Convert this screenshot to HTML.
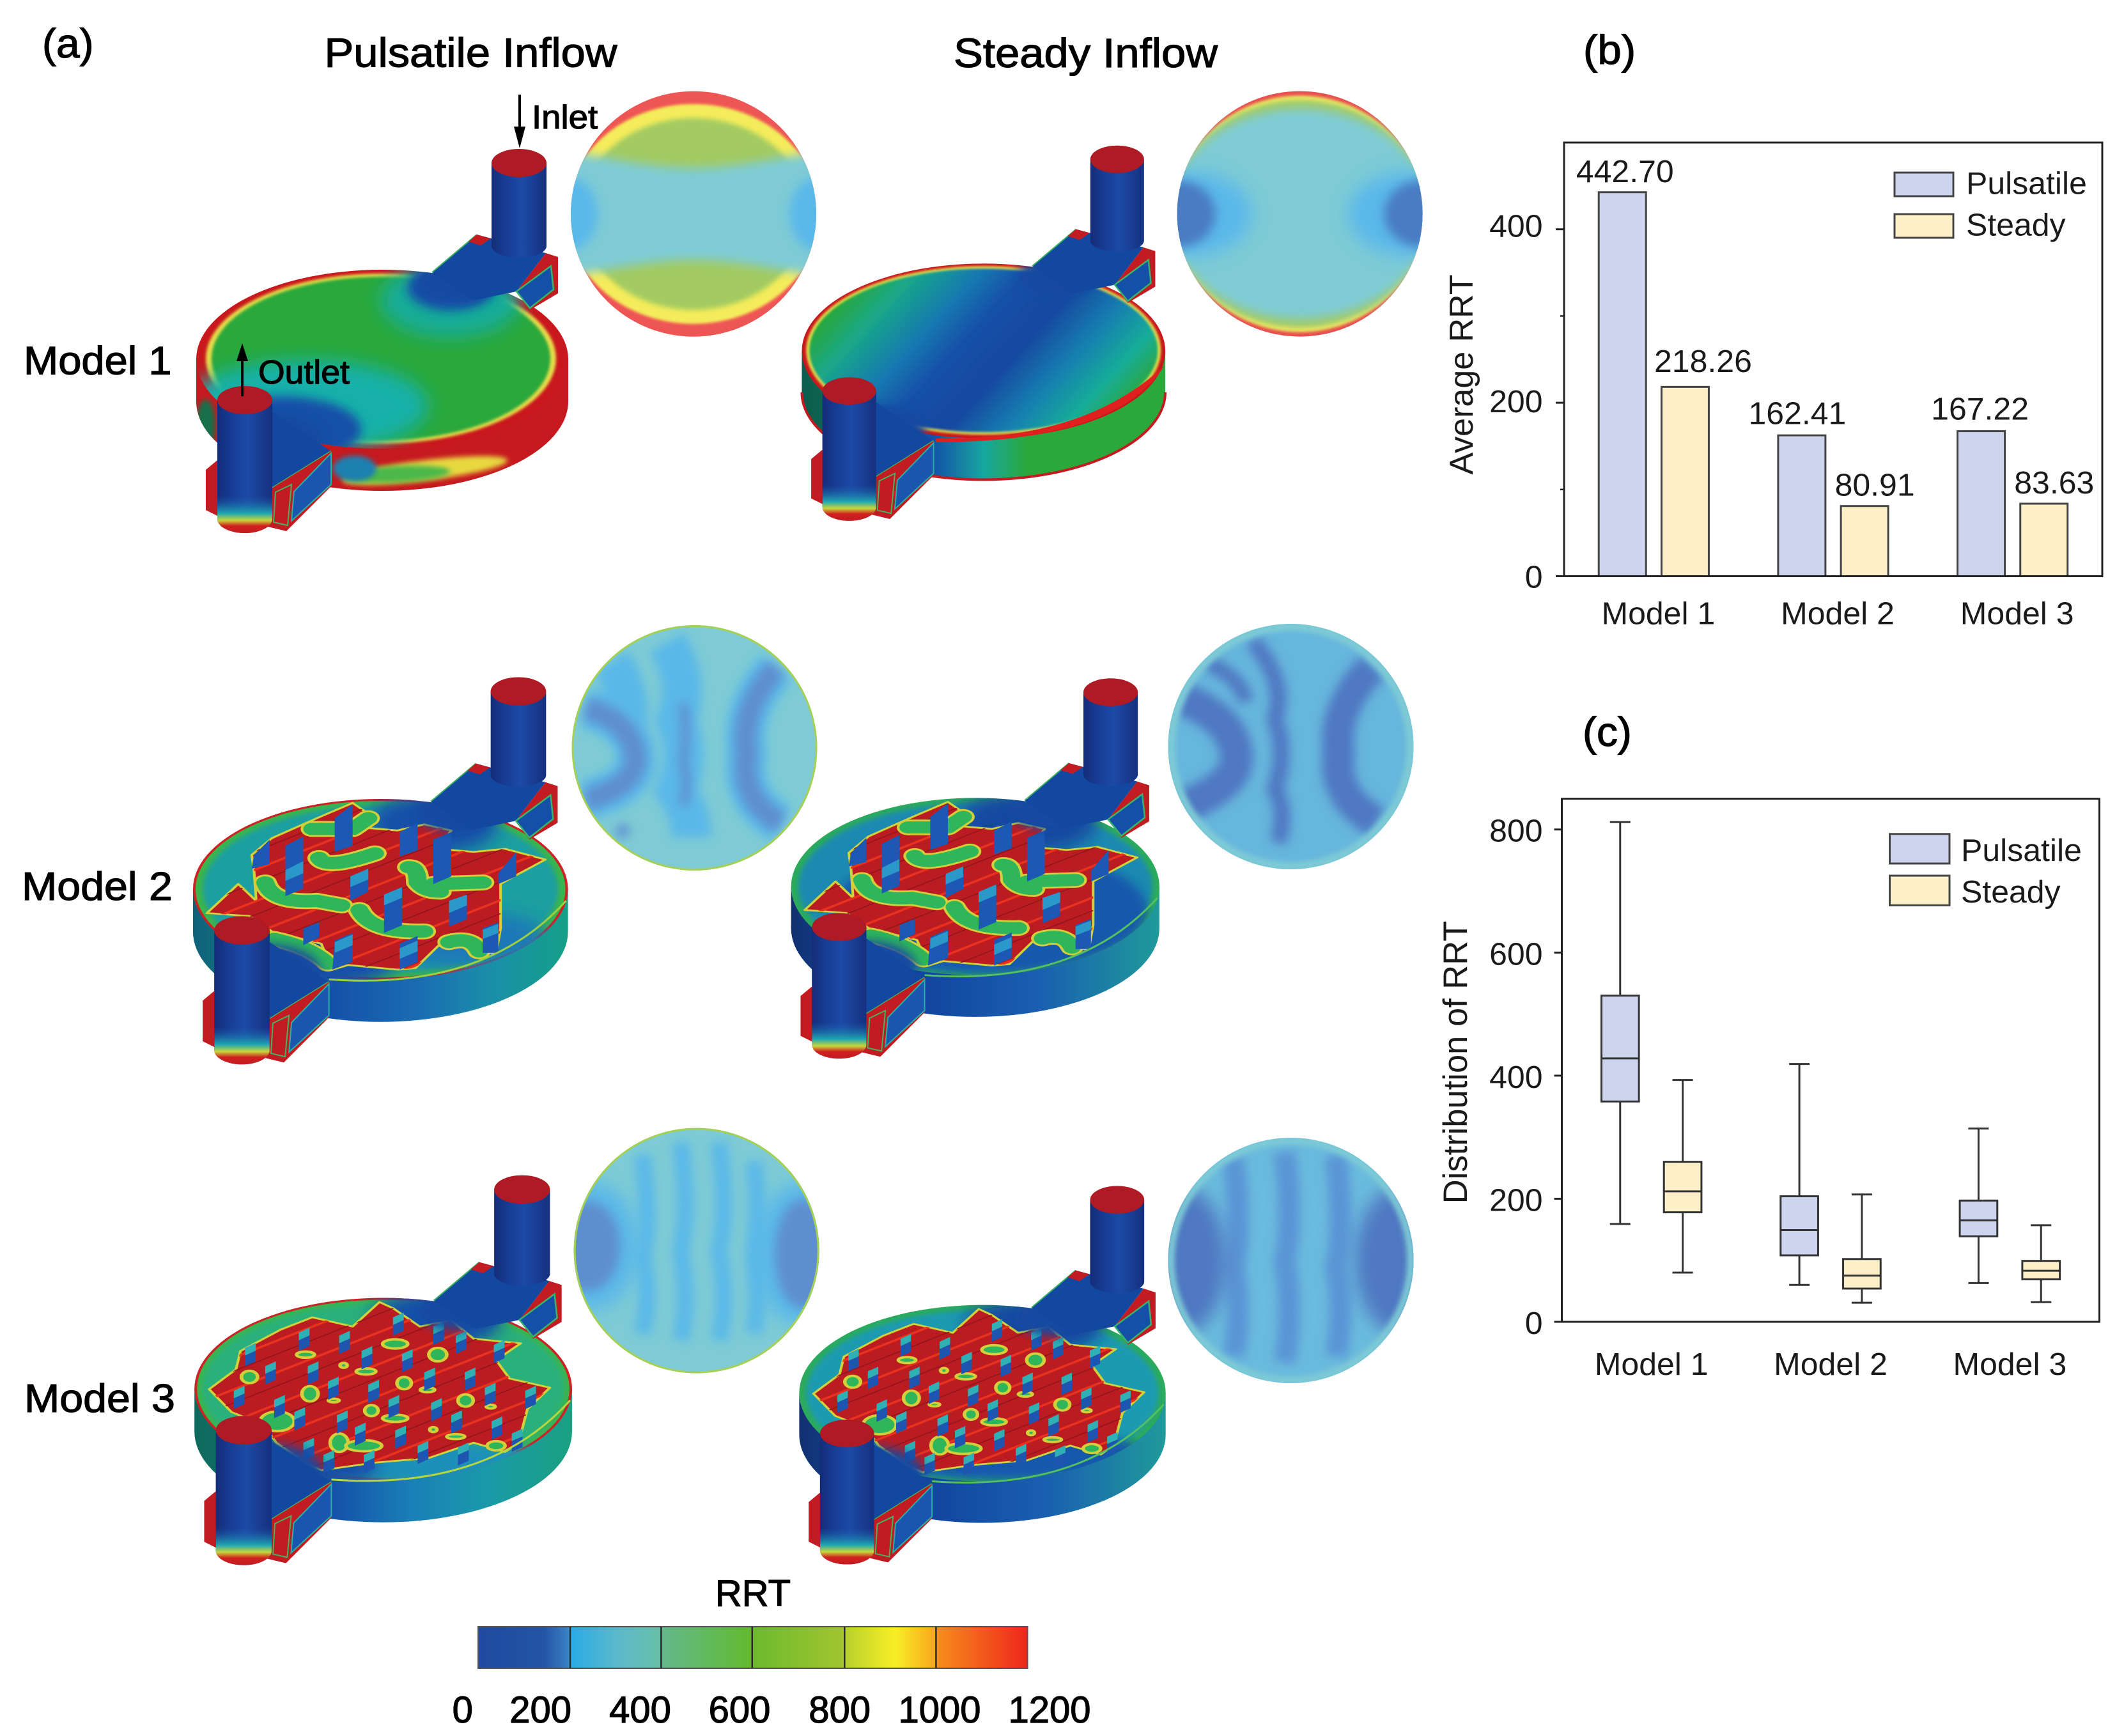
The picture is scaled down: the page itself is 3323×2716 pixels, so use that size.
<!DOCTYPE html>
<html>
<head>
<meta charset="utf-8">
<title>RRT comparison figure</title>
<style>
html,body{margin:0;padding:0;background:#fff;}
svg{display:block;}
text{font-family:"Liberation Sans",sans-serif;fill:#1a1a1a;}
.heavy{stroke:#000;stroke-width:1.2;fill:#000;}
</style>
</head>
<body>
<svg id="figure" xmlns="http://www.w3.org/2000/svg" width="3323" height="2716" viewBox="0 0 3323 2716">
<defs>
  <filter id="b2" x="-30%" y="-30%" width="160%" height="160%"><feGaussianBlur stdDeviation="2"/></filter>
  <filter id="b4" x="-30%" y="-30%" width="160%" height="160%"><feGaussianBlur stdDeviation="4"/></filter>
  <filter id="b8" x="-40%" y="-40%" width="180%" height="180%"><feGaussianBlur stdDeviation="8"/></filter>
  <filter id="b14" x="-50%" y="-50%" width="200%" height="200%"><feGaussianBlur stdDeviation="14"/></filter>
  <clipPath id="discClip"><ellipse cx="598" cy="562" rx="291" ry="140"/></clipPath>
  <clipPath id="sideClip"><path d="M307,562 L307,628 A291,140 0 0 0 889,628 L889,562 Z"/></clipPath>
  <clipPath id="insetClip"><circle cx="0" cy="0" r="192"/></clipPath>
  <clipPath id="outletClip"><path d="M340,626 L340,812 A43,22 0 0 0 426,812 L426,626 Z"/></clipPath>
  <linearGradient id="cyl" x1="0" x2="1" y1="0" y2="0">
    <stop offset="0" stop-color="#152c78"/><stop offset=".25" stop-color="#173c94"/><stop offset=".55" stop-color="#1c4aa6"/><stop offset="1" stop-color="#16307f"/>
  </linearGradient>
  <linearGradient id="outletFoot" gradientUnits="userSpaceOnUse" x1="0" x2="0" y1="775" y2="838">
    <stop offset="0" stop-color="#1a55b0" stop-opacity="0"/><stop offset=".45" stop-color="#1fa8b0"/><stop offset=".62" stop-color="#c8d73a"/><stop offset=".76" stop-color="#d0201f"/><stop offset="1" stop-color="#c01a20"/>
  </linearGradient>
  <linearGradient id="floor1s" gradientUnits="userSpaceOnUse" x1="430" y1="410" x2="770" y2="720">
    <stop offset="0" stop-color="#2aa63a"/><stop offset=".13" stop-color="#1aa888"/><stop offset=".3" stop-color="#1578b0"/><stop offset=".42" stop-color="#1450a8"/><stop offset=".58" stop-color="#1348a0"/><stop offset=".74" stop-color="#1680b0"/><stop offset=".88" stop-color="#18ad98"/><stop offset="1" stop-color="#2aa63a"/>
  </linearGradient>
  <linearGradient id="side1s" gradientUnits="userSpaceOnUse" x1="307" x2="889" y1="0" y2="0">
    <stop offset="0" stop-color="#0b5c50"/><stop offset=".12" stop-color="#0e6b4a"/><stop offset=".36" stop-color="#1450a8"/><stop offset=".5" stop-color="#16a7a0"/><stop offset=".62" stop-color="#2ba83a"/><stop offset="1" stop-color="#2ba83a"/>
  </linearGradient>
  <linearGradient id="side2p" gradientUnits="userSpaceOnUse" x1="307" x2="889" y1="0" y2="0">
    <stop offset="0" stop-color="#0f5f7a"/><stop offset=".12" stop-color="#147a80"/><stop offset=".36" stop-color="#1450a8"/><stop offset=".6" stop-color="#1a6cb2"/><stop offset=".8" stop-color="#1a8fa8"/><stop offset="1" stop-color="#14a088"/>
  </linearGradient>
  <linearGradient id="side2s" gradientUnits="userSpaceOnUse" x1="307" x2="889" y1="0" y2="0">
    <stop offset="0" stop-color="#12306f"/><stop offset=".12" stop-color="#12408f"/><stop offset=".36" stop-color="#12459f"/><stop offset=".68" stop-color="#1a60b0"/><stop offset="1" stop-color="#1f9a9a"/>
  </linearGradient>
  <linearGradient id="side3p" gradientUnits="userSpaceOnUse" x1="307" x2="889" y1="0" y2="0">
    <stop offset="0" stop-color="#0d6a5a"/><stop offset=".12" stop-color="#0f6f70"/><stop offset=".36" stop-color="#1450a8"/><stop offset=".58" stop-color="#1a80b8"/><stop offset=".78" stop-color="#1a9aa8"/><stop offset="1" stop-color="#1aa080"/>
  </linearGradient>
  <linearGradient id="colormap" gradientUnits="userSpaceOnUse" x1="748" x2="1607.6" y1="0" y2="0">
    <stop offset="0" stop-color="#1f4a9f"/><stop offset=".12" stop-color="#2354a6"/><stop offset=".1633" stop-color="#3a80c4"/><stop offset=".1673" stop-color="#29abe6"/><stop offset=".2531" stop-color="#5bb9cc"/><stop offset=".3306" stop-color="#68c0a8"/><stop offset=".3347" stop-color="#63b98c"/><stop offset=".4939" stop-color="#62ba30"/><stop offset=".4988" stop-color="#6cba2f"/><stop offset=".6612" stop-color="#a0c52e"/><stop offset=".6694" stop-color="#b8d22c"/><stop offset=".7592" stop-color="#f8ee26"/><stop offset=".8327" stop-color="#f9a61c"/><stop offset=".8367" stop-color="#f78c1c"/><stop offset="1" stop-color="#ee261c"/>
  </linearGradient>
  <pattern id="redLines" width="90" height="90" patternUnits="userSpaceOnUse" patternTransform="rotate(-30)">
    <rect x="0" y="36" width="90" height="7" fill="#e8321e"/>
    <rect x="0" y="76" width="90" height="3" fill="#8e141a"/>
  </pattern>

  <!-- shared housing pieces -->
  <polygon id="leftTab" points="340,720 322,735 322,798 344,809" fill="#c21b22"/>
  <g id="channels">
    <g clip-path="url(#discClip)">
      <ellipse cx="715" cy="442" rx="62" ry="30" fill="#1248a0" filter="url(#b8)"/>
      <ellipse cx="425" cy="690" rx="80" ry="42" fill="#1248a0" filter="url(#b8)"/>
    </g>
    <polygon points="676,426 746,367 854,396 808,456 740,470" fill="#1248a0"/>
    <polyline points="676,426 746,367" fill="none" stroke="#38b060" stroke-width="2"/>
    <polygon points="733,378 746,367 768,373 752,384" fill="#c21b22"/>
    <polygon points="854,396 873,402 873,459 829,485 808,456" fill="#c21b22"/>
    <polygon points="808,456 862,416 866,453 829,482" fill="#1450a8" stroke="#38b46a" stroke-width="2.5"/>
    <polygon points="340,670 420,640 518,706 425,764 340,720" fill="#1248a0"/>
    <polyline points="518,706 425,764" fill="none" stroke="#4ab85a" stroke-width="2.5"/>
    <polygon points="518,706 518,761 448,831 419,824 425,764" fill="#c21b22"/>
    <polygon points="460,769 518,709 518,758 456,815" fill="#1a55b0" stroke="#2ab0a0" stroke-width="2"/>
    <polygon points="431,770 456,758 450,822 428,817" fill="#c21b22" stroke="#46b45a" stroke-width="2"/>
    <path d="M769,255 L769,385 A43,18 0 0 0 855,385 L855,255 Z" fill="url(#cyl)"/>
    <ellipse cx="812" cy="255" rx="43" ry="22" fill="#ae1b24"/>
    <path d="M340,626 L340,812 A43,22 0 0 0 426,812 L426,626 Z" fill="url(#cyl)"/>
    <rect x="336" y="775" width="94" height="65" fill="url(#outletFoot)" clip-path="url(#outletClip)"/>
    <ellipse cx="383" cy="626" rx="43" ry="22" fill="#ae1b24"/>
  </g>
  <path id="discSide" d="M307,562 L307,628 A291,140 0 0 0 889,628 L889,562 Z"/>

  <!-- lattice of Model 2, drawn in a stretched local frame -->
  <g id="lattice2" transform="translate(255.5,124.4) scale(.6959,.4747)">
    <path d="M105,1000 L175,905 L215,960 L210,860 L205,810 L250,755 L350,690 L430,640 L470,680 L450,720 L530,730 L590,710 L650,730 L620,790 L700,800 L770,790 L860,825 L790,880 L760,905 L760,1050 L750,1130 L700,1130 L640,1080 L570,1180 L530,1185 L420,1170 L385,1185 L360,1100 L250,1060 L200,1010 Z" fill="#bb1c22" stroke="#cfd23a" stroke-width="6" stroke-linejoin="round"/>
    <path d="M105,1000 L175,905 L215,960 L210,860 L205,810 L250,755 L350,690 L430,640 L470,680 L450,720 L530,730 L590,710 L650,730 L620,790 L700,800 L770,790 L860,825 L790,880 L760,905 L760,1050 L750,1130 L700,1130 L640,1080 L570,1180 L530,1185 L420,1170 L385,1185 L360,1100 L250,1060 L200,1010 Z" fill="url(#redLines)"/>
    <g fill="none" stroke="#d2cf3a" stroke-width="52" stroke-linecap="round" stroke-linejoin="round">
      <path d="M355,820 Q370,860 480,805"/>
      <path d="M555,850 Q575,850 575,900 Q590,930 625,930"/>
      <path d="M235,900 Q250,970 350,960 L405,975"/>
      <path d="M445,990 Q470,1065 590,1060"/>
      <path d="M610,905 L720,900"/>
      <path d="M340,725 L430,725 L465,690"/>
      <path d="M255,1085 Q335,1110 375,1165"/>
      <path d="M645,1095 Q695,1075 712,1125"/>
    </g>
    <g fill="none" stroke="#2fb55a" stroke-width="40" stroke-linecap="round" stroke-linejoin="round">
      <path d="M355,820 Q370,860 480,805"/>
      <path d="M555,850 Q575,850 575,900 Q590,930 625,930"/>
      <path d="M235,900 Q250,970 350,960 L405,975"/>
      <path d="M445,990 Q470,1065 590,1060"/>
      <path d="M610,905 L720,900"/>
      <path d="M340,725 L430,725 L465,690"/>
      <path d="M255,1085 Q335,1110 375,1165"/>
      <path d="M645,1095 Q695,1075 712,1125"/>
    </g>
    <path d="M430,645 L430,780 L390,800 L390,690 Z M575,705 L575,795 L535,815 L535,735 Z M650,735 L650,880 L610,905 L610,760 Z M320,750 L320,920 L280,945 L280,780 Z M245,760 L245,840 L205,855 L210,810 Z M540,915 L540,1040 L500,1065 L500,940 Z M465,855 L465,930 L425,960 L425,880 Z M355,1030 L355,1080 L320,1105 L320,1050 Z M430,1065 L430,1160 L385,1185 L390,1090 Z M575,1075 L575,1160 L535,1185 L535,1100 Z M685,940 L685,1020 L645,1045 L645,960 Z M755,1030 L755,1130 L720,1130 L720,1050 Z M795,800 L795,880 L755,905 L755,870 Z" fill="#1c58b4"/>
    <path d="M465,855 L465,890 L425,915 L425,880 Z M540,915 L540,950 L500,975 L500,940 Z M320,830 L320,870 L280,895 L280,860 Z M685,940 L685,975 L645,1000 L645,960 Z M575,1090 L575,1125 L535,1150 L535,1115 Z M430,1070 L430,1105 L390,1130 L390,1095 Z M755,1035 L755,1065 L720,1085 L720,1055 Z" fill="#2a98c8"/>
  </g>

  <!-- lattice of Model 3 -->
  <g id="lattice3" transform="translate(253.6,145.6) scale(.6911,.4714)">
    <path d="M110,885 L170,820 L180,760 L270,690 L340,650 L430,680 L490,600 L520,620 L580,680 L650,660 L700,720 L805,735 L750,790 L780,850 L870,880 L820,950 L800,1060 L770,1090 L700,1060 L600,1110 L480,1125 L360,1150 L330,1130 L260,1060 L230,1000 L160,960 Z" fill="#bb1c22" stroke="#cfd23a" stroke-width="6" stroke-linejoin="round"/>
    <path d="M110,885 L170,820 L180,760 L270,690 L340,650 L430,680 L490,600 L520,620 L580,680 L650,660 L700,720 L805,735 L750,790 L780,850 L870,880 L820,950 L800,1060 L770,1090 L700,1060 L600,1110 L480,1125 L360,1150 L330,1130 L260,1060 L230,1000 L160,960 Z" fill="url(#redLines)"/>
    <g fill="#2fb55a" stroke="#d2cf3a" stroke-width="8">
      <ellipse cx="200" cy="845" rx="18" ry="20"/><ellipse cx="325" cy="772" rx="20" ry="10"/><ellipse cx="410" cy="807" rx="8" ry="8"/><ellipse cx="460" cy="827" rx="22" ry="10"/><ellipse cx="525" cy="737" rx="28" ry="15"/><ellipse cx="620" cy="772" rx="20" ry="22"/><ellipse cx="545" cy="865" rx="16" ry="20"/><ellipse cx="597" cy="887" rx="16" ry="8"/><ellipse cx="335" cy="900" rx="18" ry="25"/><ellipse cx="388" cy="922" rx="12" ry="6"/><ellipse cx="472" cy="955" rx="15" ry="18"/><ellipse cx="525" cy="980" rx="28" ry="12"/><ellipse cx="682" cy="922" rx="17" ry="20"/><ellipse cx="738" cy="942" rx="10" ry="6"/><ellipse cx="610" cy="1017" rx="8" ry="8"/><ellipse cx="660" cy="1040" rx="20" ry="8"/><ellipse cx="262" cy="990" rx="38" ry="32"/><ellipse cx="400" cy="1060" rx="20" ry="30"/><ellipse cx="455" cy="1070" rx="40" ry="18"/><ellipse cx="750" cy="1070" rx="20" ry="15"/>
    </g>
    <path fill="#1d55b0" d="M190,775 l24,-16 v35 l-24,16 z M235,835 l24,-16 v35 l-24,16 z M165,915 l24,-16 v35 l-24,16 z M310,725 l24,-16 v35 l-24,16 z M400,735 l24,-16 v35 l-24,16 z M255,945 l24,-16 v35 l-24,16 z M300,985 l24,-16 v35 l-24,16 z M330,835 l24,-16 v35 l-24,16 z M375,885 l24,-16 v35 l-24,16 z M450,785 l24,-16 v35 l-24,16 z M520,675 l24,-16 v35 l-24,16 z M610,705 l24,-16 v35 l-24,16 z M660,735 l24,-16 v35 l-24,16 z M745,765 l24,-16 v35 l-24,16 z M540,795 l24,-16 v35 l-24,16 z M465,895 l24,-16 v35 l-24,16 z M510,945 l24,-16 v35 l-24,16 z M590,855 l24,-16 v35 l-24,16 z M680,855 l24,-16 v35 l-24,16 z M725,905 l24,-16 v35 l-24,16 z M815,915 l24,-16 v35 l-24,16 z M605,955 l24,-16 v35 l-24,16 z M395,995 l24,-16 v35 l-24,16 z M435,1035 l24,-16 v35 l-24,16 z M525,1045 l24,-16 v35 l-24,16 z M650,995 l24,-16 v35 l-24,16 z M740,1015 l24,-16 v35 l-24,16 z M575,1095 l24,-16 v35 l-24,16 z M665,1100 l24,-16 v35 l-24,16 z M785,1055 l24,-16 v35 l-24,16 z M320,1085 l24,-16 v35 l-24,16 z M365,1125 l24,-16 v35 l-24,16 z M455,1125 l24,-16 v35 l-24,16 z"/>
    <path fill="#2fb0b4" d="M190,750 l24,-16 v25 l-24,16 z M235,810 l24,-16 v25 l-24,16 z M165,890 l24,-16 v25 l-24,16 z M310,700 l24,-16 v25 l-24,16 z M400,710 l24,-16 v25 l-24,16 z M255,920 l24,-16 v25 l-24,16 z M300,960 l24,-16 v25 l-24,16 z M330,810 l24,-16 v25 l-24,16 z M375,860 l24,-16 v25 l-24,16 z M450,760 l24,-16 v25 l-24,16 z M520,650 l24,-16 v25 l-24,16 z M610,680 l24,-16 v25 l-24,16 z M660,710 l24,-16 v25 l-24,16 z M745,740 l24,-16 v25 l-24,16 z M540,770 l24,-16 v25 l-24,16 z M465,870 l24,-16 v25 l-24,16 z M510,920 l24,-16 v25 l-24,16 z M590,830 l24,-16 v25 l-24,16 z M680,830 l24,-16 v25 l-24,16 z M725,880 l24,-16 v25 l-24,16 z M815,890 l24,-16 v25 l-24,16 z M605,930 l24,-16 v25 l-24,16 z M395,970 l24,-16 v25 l-24,16 z M435,1010 l24,-16 v25 l-24,16 z M525,1020 l24,-16 v25 l-24,16 z M650,970 l24,-16 v25 l-24,16 z M740,990 l24,-16 v25 l-24,16 z M575,1070 l24,-16 v25 l-24,16 z M665,1075 l24,-16 v25 l-24,16 z M785,1030 l24,-16 v25 l-24,16 z M320,1060 l24,-16 v25 l-24,16 z M365,1100 l24,-16 v25 l-24,16 z M455,1100 l24,-16 v25 l-24,16 z"/>
  </g>
</defs>

<rect x="0" y="0" width="3323" height="2716" fill="#fff"/>

<!-- MODEL 1 PULSATILE -->
<g>
  <use href="#leftTab"/>
  <use href="#discSide" fill="#c5191f"/>
  <g clip-path="url(#sideClip)">
    <ellipse cx="665" cy="736" rx="130" ry="16" transform="rotate(-7 665 736)" fill="#e8d840" filter="url(#b4)"/>
    <ellipse cx="620" cy="742" rx="85" ry="13" transform="rotate(-3 620 742)" fill="#4cb84a" filter="url(#b4)"/>
    <ellipse cx="555" cy="733" rx="34" ry="20" fill="#1a80b0" filter="url(#b4)"/>
    <ellipse cx="322" cy="665" rx="15" ry="40" fill="#12704a" filter="url(#b4)"/>
  </g>
  <g clip-path="url(#discClip)">
    <rect x="300" y="410" width="600" height="300" fill="#c8181d"/>
    <ellipse cx="596" cy="561" rx="274" ry="133" fill="#e6dc48" filter="url(#b2)"/>
    <ellipse cx="596" cy="561" rx="265" ry="128" fill="#2ba83a" filter="url(#b2)"/>
    <ellipse cx="705" cy="470" rx="110" ry="58" fill="#18ac98" filter="url(#b14)"/>
    <ellipse cx="705" cy="450" rx="68" ry="36" fill="#1550a8" filter="url(#b8)"/>
    <ellipse cx="480" cy="635" rx="190" ry="72" fill="#18b0a8" filter="url(#b14)"/>
    <ellipse cx="440" cy="672" rx="125" ry="52" fill="#1450a8" filter="url(#b8)"/>
  </g>
  <use href="#channels"/>
</g>
<g transform="translate(1085,334.7)" clip-path="url(#insetClip)">
  <rect x="-200" y="-200" width="400" height="400" fill="#ee5555"/>
  <ellipse rx="198" ry="172" fill="#f4ec5a" filter="url(#b2)"/>
  <ellipse rx="178" ry="150" fill="#a3cb62" filter="url(#b4)"/>
  <path d="M-210,-100 C-120,-85 -60,-72 0,-72 C60,-72 120,-85 210,-100 L210,100 C120,85 60,72 0,72 C-60,72 -120,85 -210,100 Z" fill="#7ecbd5" filter="url(#b8)"/>
  <ellipse cx="-192" cy="0" rx="42" ry="56" fill="#5ab8ea" filter="url(#b8)"/>
  <ellipse cx="192" cy="0" rx="42" ry="56" fill="#5ab8ea" filter="url(#b8)"/>
</g>

<!-- MODEL 1 STEADY -->
<g transform="translate(954.5,0.1) scale(.977)">
  <use href="#leftTab"/>
  <use href="#discSide" fill="url(#side1s)"/>
  <path d="M307,628 A291,140 0 0 0 889,628" fill="none" stroke="#c41a20" stroke-width="4"/>
  <g clip-path="url(#discClip)">
    <rect x="300" y="410" width="600" height="300" fill="#c8181d"/>
    <ellipse cx="598" cy="561" rx="284" ry="135" fill="#e2de4a" filter="url(#b2)"/>
    <ellipse cx="598" cy="561" rx="279" ry="131" fill="url(#floor1s)" filter="url(#b2)"/>
  </g>
  <path d="M522,702 Q760,706 888,585 Q810,708 522,708 Z" fill="#e01f1f"/>
  <use href="#channels"/>
</g>
<g transform="translate(2033.6,334.6)" clip-path="url(#insetClip)">
  <rect x="-200" y="-200" width="400" height="400" fill="#e8504f"/>
  <ellipse rx="194" ry="185" fill="#eee860" filter="url(#b2)"/>
  <ellipse rx="197" ry="178" fill="#a3cb62" filter="url(#b4)"/>
  <ellipse rx="204" ry="165" fill="#7ecbd5" filter="url(#b8)"/>
  <ellipse cx="-170" cy="0" rx="95" ry="66" fill="#5ab8ea" filter="url(#b14)"/>
  <ellipse cx="170" cy="0" rx="95" ry="66" fill="#5ab8ea" filter="url(#b14)"/>
  <ellipse cx="-190" cy="0" rx="58" ry="52" fill="#4a7cc3" filter="url(#b8)"/>
  <ellipse cx="190" cy="0" rx="58" ry="52" fill="#4a7cc3" filter="url(#b8)"/>
</g>

<!-- MODEL 2 PULSATILE -->
<g transform="translate(-7.5,824.6) scale(1.008)">
  <use href="#leftTab"/>
  <use href="#discSide" fill="url(#side2p)"/>
  <g clip-path="url(#discClip)">
    <rect x="300" y="410" width="600" height="300" fill="#d02024"/>
    <ellipse cx="598" cy="562" rx="287" ry="137" fill="#3cb54a"/>
    <ellipse cx="598" cy="562" rx="276" ry="130" fill="#1a9fa0" filter="url(#b4)"/>
    <ellipse cx="730" cy="640" rx="130" ry="44" fill="#1a78b8" filter="url(#b14)"/>
    <ellipse cx="680" cy="460" rx="100" ry="48" fill="#1450a8" filter="url(#b14)"/>
    <ellipse cx="470" cy="672" rx="150" ry="52" fill="#1450a8" filter="url(#b14)"/>
    <use href="#lattice2"/>
  </g>
  <path d="M518,702 Q760,720 886,580" fill="none" stroke="#9bd13f" stroke-width="3"/>
  <use href="#channels"/>
</g>
<g transform="translate(1086.5,1170)" clip-path="url(#insetClip)">
  <rect x="-200" y="-200" width="400" height="400" fill="#7ecbd5"/>
  <g fill="none" stroke="#5ab8e8" stroke-width="62" filter="url(#b8)">
    <path d="M-170,-62 Q-92,-40 -92,19 Q-92,60 -170,82"/>
    <path d="M-130,-135 Q-100,-90 -105,-40"/>
    <path d="M-43,-165 Q-5,-100 -29,-43 Q-5,10 -29,67 Q-5,100 -5,140"/>
    <path d="M128,-125 Q70,-60 82,10 Q70,80 135,118"/>
  </g>
  <g fill="none" stroke="#5f8ed0" filter="url(#b8)">
    <path stroke-width="34" d="M-170,-62 Q-95,-40 -92,19 Q-95,60 -170,82"/>
    <path stroke-width="34" d="M128,-125 Q70,-60 82,10 Q70,80 135,118"/>
    <path stroke-width="14" d="M-18,-70 Q-10,-20 -18,20 Q-8,60 -18,90"/>
    <path stroke-width="20" d="M-120,125 L-105,135"/>
  </g>
  <circle r="190.5" fill="none" stroke="#a5d050" stroke-width="3"/>
</g>

<!-- MODEL 2 STEADY -->
<g transform="translate(933.7,830.6) scale(.99)">
  <use href="#leftTab"/>
  <use href="#discSide" fill="url(#side2s)"/>
  <g clip-path="url(#discClip)">
    <rect x="300" y="410" width="600" height="300" fill="#2cab5a"/>
    <ellipse cx="598" cy="562" rx="280" ry="132" fill="#1a8ab0" filter="url(#b4)"/>
    <ellipse cx="620" cy="600" rx="250" ry="100" fill="#1458ac" filter="url(#b8)"/>
    <ellipse cx="680" cy="460" rx="110" ry="50" fill="#1248a0" filter="url(#b14)"/>
    <use href="#lattice2"/>
  </g>
  <path d="M518,702 Q760,720 886,580" fill="none" stroke="#55c060" stroke-width="3"/>
  <use href="#channels"/>
</g>
<g transform="translate(2019.5,1168)" clip-path="url(#insetClip)">
  <rect x="-200" y="-200" width="400" height="400" fill="#66b6dd"/>
  <g fill="none" stroke="#4f78c2" filter="url(#b8)">
    <path stroke-width="52" d="M-170,-75 Q-85,-40 -85,19 Q-85,60 -170,95"/>
    <path stroke-width="26" d="M-60,-165 Q-5,-100 -25,-43 Q-5,10 -25,67 Q-5,100 -20,150"/>
    <path stroke-width="50" d="M128,-125 Q65,-60 75,10 Q65,80 135,118"/>
    <path stroke-width="24" d="M-130,-130 Q-80,-110 -70,-70"/>
  </g>
  <circle r="188" fill="none" stroke="#7ecbd5" stroke-width="14" filter="url(#b4)"/>
</g>

<!-- MODEL 3 PULSATILE -->
<g transform="translate(-7.4,1602.2) scale(1.015)">
  <use href="#leftTab"/>
  <use href="#discSide" fill="url(#side3p)"/>
  <g clip-path="url(#discClip)">
    <rect x="300" y="410" width="600" height="300" fill="#d02024"/>
    <ellipse cx="598" cy="562" rx="287" ry="137" fill="#3cb54a"/>
    <ellipse cx="598" cy="562" rx="280" ry="132" fill="#2ab07a" filter="url(#b4)"/>
    <ellipse cx="700" cy="680" rx="170" ry="34" fill="#1a90b8" filter="url(#b8)"/>
    <ellipse cx="680" cy="455" rx="100" ry="46" fill="#1450a8" filter="url(#b14)"/>
    <ellipse cx="450" cy="680" rx="140" ry="42" fill="#1450a8" filter="url(#b14)"/>
    <use href="#lattice3"/>
  </g>
  <path d="M518,702 Q760,720 886,580" fill="none" stroke="#b5d63d" stroke-width="3"/>
  <use href="#channels"/>
</g>
<g transform="translate(1089.7,1956.6)" clip-path="url(#insetClip)">
  <rect x="-200" y="-200" width="400" height="400" fill="#7ecbd5"/>
  <g fill="none" stroke="#5ab8e8" stroke-width="26" filter="url(#b8)">
    <path d="M-85,-150 Q-70,-40 -85,10 Q-70,70 -85,130"/>
    <path d="M-25,-170 Q-10,-60 -25,0 Q-10,80 -25,140"/>
    <path d="M35,-170 Q50,-60 35,0 Q50,80 35,140"/>
    <path d="M90,-140 Q100,-50 90,10 Q100,70 90,130"/>
  </g>
  <ellipse cx="-165" cy="-7" rx="75" ry="100" fill="#5ab8e8" filter="url(#b14)"/>
  <ellipse cx="165" cy="5" rx="75" ry="112" fill="#5ab8e8" filter="url(#b14)"/>
  <ellipse cx="-170" cy="-7" rx="50" ry="70" fill="#5f8ed0" filter="url(#b8)"/>
  <ellipse cx="165" cy="5" rx="42" ry="85" fill="#5f8ed0" filter="url(#b8)"/>
  <circle r="190.5" fill="none" stroke="#a5d050" stroke-width="3"/>
</g>

<!-- MODEL 3 STEADY -->
<g transform="translate(948,1626) scale(.985)">
  <use href="#leftTab"/>
  <use href="#discSide" fill="url(#side2s)"/>
  <g clip-path="url(#discClip)">
    <rect x="300" y="410" width="600" height="300" fill="#2cab5a"/>
    <ellipse cx="598" cy="562" rx="280" ry="132" fill="#1a9ab0" filter="url(#b4)"/>
    <ellipse cx="640" cy="660" rx="220" ry="40" fill="#1458ac" filter="url(#b8)"/>
    <ellipse cx="680" cy="455" rx="110" ry="46" fill="#1248a0" filter="url(#b14)"/>
    <use href="#lattice3"/>
  </g>
  <path d="M518,702 Q760,720 886,580" fill="none" stroke="#55c060" stroke-width="3"/>
  <use href="#channels"/>
</g>
<g transform="translate(2019.5,1972)" clip-path="url(#insetClip)">
  <rect x="-200" y="-200" width="400" height="400" fill="#6abbdd"/>
  <g fill="none" stroke="#5a94d6" stroke-width="34" filter="url(#b8)">
    <path d="M-90,-160 Q-75,-50 -90,10 Q-75,80 -90,150"/>
    <path d="M-10,-170 Q5,-60 -10,0 Q5,80 -10,160"/>
    <path d="M70,-165 Q85,-50 70,10 Q85,80 70,150"/>
  </g>
  <ellipse cx="-172" cy="0" rx="72" ry="115" fill="#4f78c2" filter="url(#b14)"/>
  <ellipse cx="172" cy="0" rx="72" ry="115" fill="#4f78c2" filter="url(#b14)"/>
  <circle r="188" fill="none" stroke="#7ecbd5" stroke-width="12" filter="url(#b4)"/>
</g>

<!-- Panel (a) labels -->
<text class="heavy" transform="translate(66,90) scale(1.03,1)" font-size="64">(a)</text>
<text class="heavy" transform="translate(507.5,104.5) scale(1.073,1)" font-size="64">Pulsatile Inflow</text>
<text class="heavy" transform="translate(1492,105) scale(1.075,1)" font-size="64">Steady Inflow</text>
<text class="heavy" transform="translate(37,585.5) scale(1.05,1)" font-size="62">Model 1</text>
<text class="heavy" transform="translate(34,1408) scale(1.07,1)" font-size="62">Model 2</text>
<text class="heavy" transform="translate(38,2209) scale(1.07,1)" font-size="62">Model 3</text>
<text class="heavy" transform="translate(832,201) scale(1.05,1)" font-size="52">Inlet</text>
<text class="heavy" transform="translate(404,600) scale(1.03,1)" font-size="52">Outlet</text>
<g>
  <line x1="813" y1="148" x2="813" y2="200" stroke="#000" stroke-width="4"/>
  <polygon points="804,198 822,198 813,232" fill="#000"/>
</g>
<g>
  <line x1="379" y1="620" x2="379" y2="563" stroke="#000" stroke-width="4"/>
  <polygon points="370,565 388,565 379,537" fill="#000"/>
</g>

<!-- Colour bar -->
<g>
  <text class="heavy" x="1178" y="2512.7" text-anchor="middle" font-size="58">RRT</text>
  <rect x="748" y="2545" width="859.6" height="65" fill="url(#colormap)" stroke="#555" stroke-width="2"/>
  <g stroke="#2a2a2a" stroke-width="2.5">
    <line x1="892" y1="2545" x2="892" y2="2610"/><line x1="1034.4" y1="2545" x2="1034.4" y2="2610"/><line x1="1176.8" y1="2545" x2="1176.8" y2="2610"/><line x1="1321.3" y1="2545" x2="1321.3" y2="2610"/><line x1="1464.4" y1="2545" x2="1464.4" y2="2610"/>
  </g>
  <g text-anchor="middle" font-size="58" class="heavy">
    <text class="heavy" x="723.7" y="2695">0</text>
    <text class="heavy" x="845.7" y="2695">200</text>
    <text class="heavy" x="1001.5" y="2695">400</text>
    <text class="heavy" x="1157" y="2695">600</text>
    <text class="heavy" x="1313.6" y="2695">800</text>
    <text class="heavy" x="1470" y="2695">1000</text>
    <text class="heavy" x="1642" y="2695">1200</text>
  </g>
</g>

<text class="heavy" transform="translate(2477,100) scale(1.05,1)" font-size="64">(b)</text>
<text class="heavy" transform="translate(2476,1167) scale(1.03,1)" font-size="64">(c)</text>

<g id="chart-b"></g>
<g id="chart-c"></g>
</svg>

<script>
const categories = ['Model 1', 'Model 2', 'Model 3'];
const pulsatileMeans = [442.70, 162.41, 167.22];
const steadyMeans = [218.26, 80.91, 83.63];
const barMajorTicks = [0, 200, 400];
const barMinorTicks = [100, 300];
const boxTicks = [0, 200, 400, 600, 800];
const pulsatileMax = [812, 419, 314];
const pulsatileQ3 = [530, 204, 197];
const pulsatileMedian = [428, 149, 165];
const pulsatileQ1 = [358, 108, 139];
const pulsatileMin = [159, 60, 63];
const steadyMax = [393, 207, 157];
const steadyQ3 = [260, 102, 99];
const steadyMedian = [212, 75, 83];
const steadyQ1 = [178, 54, 69];
const steadyMin = [80, 31, 32];

const NS = 'http://www.w3.org/2000/svg';
const PULSATILE_FILL = '#cdd5ee';
const STEADY_FILL = '#fdf0c8';
const INK = '#333';

function mk(tag, attrs, parent) {
  const e = document.createElementNS(NS, tag);
  for (const k in attrs) e.setAttribute(k, attrs[k]);
  parent.appendChild(e);
  return e;
}
function label(parent, x, y, str, size, anchor) {
  const t = mk('text', {transform: 'translate(' + x + ',' + y + ') scale(1.02,1)', 'font-size': size, 'text-anchor': anchor}, parent);
  t.textContent = str;
  return t;
}
function slug(s) { return s.toLowerCase().replace(/\s+/g, '-'); }

function drawLegend(root, swatchX, swatchW, textX, rows) {
  ['Pulsatile', 'Steady'].forEach(function (name, i) {
    const row = rows[i];
    const sw = mk('rect', {x: swatchX, y: row.top, width: swatchW, height: row.h, fill: i === 0 ? PULSATILE_FILL : STEADY_FILL, stroke: '#444', 'stroke-width': 3}, root);
    
    
    const t = label(root, textX, row.base, name, 49, 'start');
    
    
  });
}

/* ---------- Chart (b) ---------- */
(function () {
  const root = document.getElementById('chart-b');
  const L = 2447, R = 3289, T = 223, B = 901.5, MAX = 500;
  const y = function (v) { return B - (v / MAX) * (B - T); };
  const band = (R - L) / categories.length;
  const xc = function (i) { return L + (i + 0.5) * band; };
  const dodge = 49.1, bw = 74;
  const series = [
    {name: 'pulsatile', vals: pulsatileMeans, fill: PULSATILE_FILL, sign: -1, dx: [4, -7, -2], dy: [16, 17.5, 18]},
    {name: 'steady', vals: steadyMeans, fill: STEADY_FILL, sign: 1, dx: [28, 16, 16], dy: [23.4, 16, 16]}
  ];
  series.forEach(function (s) {
    s.vals.forEach(function (v, i) {
      const cx = xc(i) + s.sign * dodge;
      const r = mk('rect', {x: cx - bw / 2, y: y(v), width: bw, height: B - y(v), fill: s.fill, stroke: '#444', 'stroke-width': 3}, root);
      
      
      const t = label(root, cx + s.dx[i], y(v) - s.dy[i], v.toFixed(2), 49, 'middle');
      
      
    });
  });
  const frame = mk('rect', {x: L, y: T, width: R - L, height: B - T, fill: 'none', stroke: '#222', 'stroke-width': 3}, root);
  
  
  barMajorTicks.forEach(function (v) {
    const tk = mk('line', {x1: L - 13, x2: L, y1: y(v), y2: y(v), stroke: '#222', 'stroke-width': 3}, root);
    
    
    const t = label(root, 2413.5, y(v) + 18 - v * 0.015, String(v), 49, 'end');
    
    
  });
  barMinorTicks.forEach(function (v) {
    const tk = mk('line', {x1: L - 6, x2: L, y1: y(v), y2: y(v), stroke: '#222', 'stroke-width': 2.5}, root);
    
    
  });
  categories.forEach(function (c, i) {
    const t = label(root, xc(i) + 7, 976.6, c, 49, 'middle');
    
    
  });
  const title = mk('text', {transform: 'translate(2304,586) rotate(-90)', 'font-size': 52, 'text-anchor': 'middle'}, root);
  title.textContent = 'Average RRT';
  
  
  drawLegend(root, 2964, 92, 3076, [{top: 270, h: 37, base: 303.4}, {top: 335, h: 37, base: 368.4}]);
})();

/* ---------- Chart (c) ---------- */
(function () {
  const root = document.getElementById('chart-c');
  const L = 2443.5, R = 3284.5, T = 1249.6, B = 2068, MAX = 850;
  const y = function (v) { return B - (v / MAX) * (B - T); };
  const band = (R - L) / categories.length;
  const xc = function (i) { return L + (i + 0.5) * band; };
  const dodge = 48.9, bw = 58.7, cap = 32;
  const series = [
    {name: 'pulsatile', hi: pulsatileMax, q3: pulsatileQ3, med: pulsatileMedian, q1: pulsatileQ1, lo: pulsatileMin, fill: PULSATILE_FILL, sign: -1},
    {name: 'steady', hi: steadyMax, q3: steadyQ3, med: steadyMedian, q1: steadyQ1, lo: steadyMin, fill: STEADY_FILL, sign: 1}
  ];
  series.forEach(function (s) {
    categories.forEach(function (c, i) {
      const cx = xc(i) + s.sign * dodge;
      const g = mk('g', {}, root);
      
      
      mk('line', {x1: cx, x2: cx, y1: y(s.hi[i]), y2: y(s.lo[i]), stroke: INK, 'stroke-width': 3}, g);
      mk('line', {x1: cx - cap / 2, x2: cx + cap / 2, y1: y(s.hi[i]), y2: y(s.hi[i]), stroke: INK, 'stroke-width': 3}, g);
      mk('line', {x1: cx - cap / 2, x2: cx + cap / 2, y1: y(s.lo[i]), y2: y(s.lo[i]), stroke: INK, 'stroke-width': 3}, g);
      mk('rect', {x: cx - bw / 2, y: y(s.q3[i]), width: bw, height: y(s.q1[i]) - y(s.q3[i]), fill: s.fill, stroke: INK, 'stroke-width': 3}, g);
      mk('line', {x1: cx - bw / 2, x2: cx + bw / 2, y1: y(s.med[i]), y2: y(s.med[i]), stroke: INK, 'stroke-width': 3}, g);
    });
  });
  const frame = mk('rect', {x: L, y: T, width: R - L, height: B - T, fill: 'none', stroke: '#222', 'stroke-width': 3}, root);
  
  
  boxTicks.forEach(function (v) {
    const tk = mk('line', {x1: L - 12, x2: L, y1: y(v), y2: y(v), stroke: '#222', 'stroke-width': 3}, root);
    
    
    const t = label(root, 2413.5, y(v) + 19, String(v), 49, 'end');
    
    
  });
  categories.forEach(function (c, i) {
    const t = label(root, xc(i), 2150.9, c, 49, 'middle');
    
    
  });
  const title = mk('text', {transform: 'translate(2295,1662) rotate(-90)', 'font-size': 52.5, 'text-anchor': 'middle'}, root);
  title.textContent = 'Distribution of RRT';
  
  
  drawLegend(root, 2956.5, 93.5, 3068, [{top: 1304.8, h: 46.2, base: 1347}, {top: 1370, h: 46.4, base: 1412}]);
})();
</script>
</body>
</html>
